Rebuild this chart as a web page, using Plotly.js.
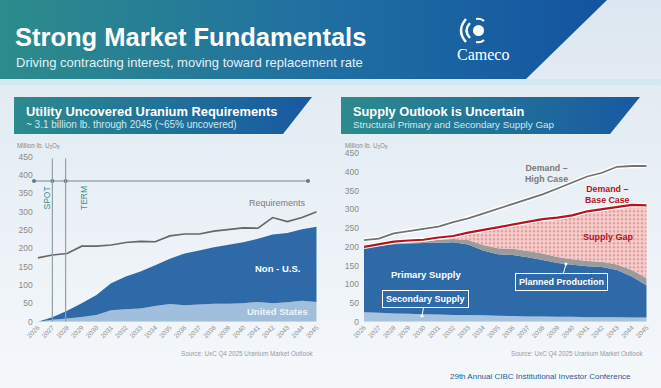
<!DOCTYPE html>
<html><head><meta charset="utf-8">
<script src="https://cdn.plot.ly/plotly-3.0.1.min.js"></script>
<style>html,body{margin:0;padding:0;background:#e8eff6;}#chart{width:661px;height:388px;}</style>
</head><body><div id="chart"></div>
<script>
// ---------- data ----------
const years = [2026,2027,2028,2029,2030,2031,2032,2033,2034,2035,2036,2037,2038,2039,2040,2041,2042,2043,2044,2045];
const yearLabels = years.map(String);
const yTicks = [0,50,100,150,200,250,300,350,400,450];

// Left: Utility uncovered requirements (million lb U3O8)
const usUncovered    = [0,5,9,13,18,31,34,36,43,48,45,47,49,49,50,54,50,53,57,54];
const nonUsUncovered = [0,7,21,37,55,74,89,101,111,124,141,147,154,161,167,172,188,189,195,205];
const requirements   = [174,182,186,206,206,209,216,219,218,234,239,239,247,251,256,255,284,273,284,300];

// Right: supply outlook
const secondarySupply   = [25,24,22,21,20,19,18,18,17,16,15,14,14,13,13,12,12,12,11,11];
const primarySupply     = [173,179,185,188,190,192,194,188,173,164,163,158,151,144,139,136,134,126,110,86];
const plannedProduction = [2,3,4,5,6,8,9,12,15,16,17,17,17,16,15,14,14,15,17,19];
const demandBase        = [200,207,214,217,219,225,229,238,245,254,261,268,274,278,284,295,300,307,312,311];
const demandHigh        = [218,222,236,242,246,254,266,276,289,302,314,328,340,356,372,388,398,414,416,416];
const supplyGap = demandBase.map((d,i)=>Math.max(0, d - secondarySupply[i] - primarySupply[i] - plannedProduction[i]));

const spotYear = 2027, termYear = 2027.9;

// ---------- styling ----------
const F = 'Liberation Sans, Arial, sans-serif';
const blue = '#2e6aa8', lightBlue = '#9fbfdd', grayBand = '#9b9b9b', red = '#b3141d';
const headGrad = {type:'horizontal', colorscale:[[0,'#2c8b8d'],[1,'#1759a3']]};

function deco(xs, ys, grad, color){
  const t = {x:xs, y:ys, xaxis:'x', yaxis:'y', mode:'lines', fill:'toself', line:{width:0},
    hoverinfo:'skip', showlegend:false};
  if (grad) t.fillgradient = grad; else t.fillcolor = color;
  return t;
}

const traces = [
  deco([0,661,661,0,0],[0,0,388,388,0],{type:'vertical',colorscale:[[0,'#f5f8fb'],[0.5,'#e9f0f6'],[1,'#dde7f1']]}),
  deco([0,661,661,0,0],[79,79,85,85,79],null,'#d3e8f1'),
  deco([0,607,526,0,0],[0,0,79,79,0],{type:'horizontal',colorscale:[[0,'#2c8c8b'],[0.55,'#1f6ea2'],[1,'#1354a0']]}),
  deco([14,312,283,14,14],[97,97,134,134,97],headGrad),
  deco([341,640,610,341,341],[97,97,134,134,97],headGrad),
  {x:[34,52.4,65.6,308], y:[181,181,181,181], xaxis:'x', yaxis:'y', mode:'lines+markers',
   line:{color:'#6f8b8e', width:1}, marker:{size:4, color:'#5f7f82'}, hoverinfo:'skip', showlegend:false},

  // left chart
  {x:years, y:usUncovered, xaxis:'x2', yaxis:'y2', stackgroup:'l', mode:'none', fillcolor:lightBlue, name:'United States'},
  {x:years, y:nonUsUncovered, xaxis:'x2', yaxis:'y2', stackgroup:'l', mode:'none', fillcolor:blue, name:'Non - U.S.'},
  {x:years, y:requirements, xaxis:'x2', yaxis:'y2', mode:'lines', line:{color:'#666', width:1.6}, name:'Requirements'},

  // right chart
  {x:years, y:secondarySupply, xaxis:'x3', yaxis:'y3', stackgroup:'r', mode:'none', fillcolor:'#a6c4e0', name:'Secondary Supply'},
  {x:years, y:primarySupply, xaxis:'x3', yaxis:'y3', stackgroup:'r', mode:'none', fillcolor:blue, name:'Primary Supply'},
  {x:years, y:plannedProduction, xaxis:'x3', yaxis:'y3', stackgroup:'r', mode:'none', fillcolor:grayBand, name:'Planned Production'},
  {x:years, y:supplyGap, xaxis:'x3', yaxis:'y3', stackgroup:'r', mode:'none', fillcolor:'#f3c8c8',
   fillpattern:{shape:'.', bgcolor:'#f5cece', fgcolor:'#e39c9c', size:4, solidity:0.35}, name:'Supply Gap'},
  {x:years, y:demandHigh, xaxis:'x3', yaxis:'y3', mode:'lines', line:{color:'#ffffff', width:4.5}, hoverinfo:'skip', showlegend:false},
  {x:years, y:demandHigh, xaxis:'x3', yaxis:'y3', mode:'lines', line:{color:'#727272', width:1.8}, name:'Demand – High Case'},
  {x:years, y:demandBase, xaxis:'x3', yaxis:'y3', mode:'lines', line:{color:'#ffffff', width:4.5}, hoverinfo:'skip', showlegend:false},
  {x:years, y:demandBase, xaxis:'x3', yaxis:'y3', mode:'lines', line:{color:red, width:2.2}, name:'Demand – Base Case'}
];

function xAx(domain, anchor){
  return {domain, anchor, range:[2026,2045], tickmode:'array', tickvals:years, ticktext:yearLabels,
    tickangle:-45, tickfont:{family:F, size:6.5, color:'#8f8f8f'}, showgrid:false, zeroline:false,
    showline:false, ticks:'', fixedrange:true};
}
function yAx(domain, anchor){
  return {domain, anchor, range:[0,450], tickmode:'array', tickvals:yTicks,
    tickfont:{family:F, size:8.5, color:'#8a8a8a'}, showgrid:false, zeroline:false,
    showline:false, ticks:'', ticklabelstandoff:4, fixedrange:true};
}

function txt(text, x, y, size, color, opts){
  return Object.assign({text, x, y, xref:'x', yref:'y', showarrow:false,
    font:{family:F, size, color}, xanchor:'left', yanchor:'middle'}, opts||{});
}

const annotations = [
  txt('<b>Strong Market Fundamentals</b>', 13, 37, 25.5, '#ffffff'),
  txt('Driving contracting interest, moving toward replacement rate', 14, 62, 13, '#e3f0f6'),
  txt('Cameco', 483, 54, 16, '#ffffff', {xanchor:'center', font:{family:'Liberation Serif, DejaVu Serif, serif', size:16, color:'#ffffff'}}),
  txt('<b>Utility Uncovered Uranium Requirements</b>', 24, 111, 12.9, '#ffffff'),
  txt('~ 3.1 billion lb. through 2045 (~65% uncovered)', 24, 124.5, 10, '#cfe9ef'),
  txt('<b>Supply Outlook is Uncertain</b>', 351, 111, 12.8, '#ffffff'),
  txt('Structural Primary and Secondary Supply Gap', 351, 124.5, 9.8, '#cfe9ef'),
  txt('Million lb. U<sub>3</sub>O<sub>8</sub>', 15, 146, 6.3, '#8a8a8a'),
  txt('Million lb. U<sub>3</sub>O<sub>8</sub>', 343, 146, 6.3, '#8a8a8a'),
  txt('SPOT', 46.5, 198, 8.5, '#3f8f8c', {xanchor:'center', textangle:-90}),
  txt('TERM', 84, 198, 8.5, '#3f8f8c', {xanchor:'center', textangle:-90}),
  txt('Requirements', 277, 203, 9, '#7a7a7a', {xanchor:'center'}),
  txt('<b>Non - U.S.</b>', 277, 268, 9.5, '#ffffff', {xanchor:'center'}),
  txt('<b>United States</b>', 277, 311, 9.5, '#eef4fa', {xanchor:'center'}),
  txt('Source: UxC Q4 2025 Uranium Market Outlook', 315, 354, 6.3, '#9a9a9a', {xanchor:'right'}),
  txt('Source: UxC Q4 2025 Uranium Market Outlook', 645, 354, 6.3, '#9a9a9a', {xanchor:'right'}),
  txt('<b>Demand –</b><br><b>High Case</b>', 546, 173, 8.8, '#7a7a7a', {xanchor:'center'}),
  txt('<b>Demand –</b><br><b>Base Case</b>', 607, 194, 8.8, red, {xanchor:'center'}),
  txt('<b>Supply Gap</b>', 608, 237, 9, red, {xanchor:'center'}),
  txt('<b>Primary Supply</b>', 426, 274, 9.5, '#ffffff', {xanchor:'center'}),
  Object.assign(txt('<b>Secondary Supply</b>', 422, 316, 9, '#ffffff', {xanchor:'center'}),
    {showarrow:true, ax:3, ay:-17, arrowhead:6, arrowsize:0.8, arrowwidth:1, arrowcolor:'#ffffff',
     bordercolor:'#ffffff', borderwidth:1, borderpad:3}),
  Object.assign(txt('<b>Planned Production</b>', 566, 264, 9, '#ffffff', {xanchor:'center'}),
    {showarrow:true, ax:-5, ay:18, arrowhead:6, arrowsize:0.8, arrowwidth:1, arrowcolor:'#ffffff',
     bordercolor:'#ffffff', borderwidth:1, borderpad:3}),
  txt('29th Annual CIBC Institutional Investor Conference', 633, 376, 8, '#2a5a9c', {xanchor:'right'})
];

const shapes = [
  {type:'circle', xref:'x', yref:'y', x0:473, x1:484, y0:25, y1:36, fillcolor:'#ffffff', line:{width:0}, layer:'above'},
  {type:'path', xref:'x', yref:'y', path:'M 470 23 Q 463 30.5 470 38', line:{color:'#ffffff', width:2.4}, layer:'above'},
  {type:'path', xref:'x', yref:'y', path:'M 466 19 Q 456 30.5 466 42', line:{color:'#ffffff', width:2.4}, layer:'above'},
  {type:'path', xref:'x', yref:'y', path:'M 476 19 Q 481 18 484 21', line:{color:'#ffffff', width:2}, layer:'above'},
  {type:'path', xref:'x', yref:'y', path:'M 476 42 Q 481 43 484 40', line:{color:'#ffffff', width:2}, layer:'above'},
  {type:'line', xref:'x2', yref:'y2', x0:spotYear, x1:spotYear, y0:0, y1:445, line:{color:'#8fa2a6', width:1.2}, layer:'above'},
  {type:'line', xref:'x2', yref:'y2', x0:termYear, x1:termYear, y0:0, y1:445, line:{color:'#8fa2a6', width:1.2}, layer:'above'}
];

const W = 661, H = 388;
const layout = {
  width:W, height:H, margin:{l:0,r:0,t:0,b:0}, showlegend:false,
  paper_bgcolor:'#e8eff6', plot_bgcolor:'rgba(0,0,0,0)',
  xaxis:{domain:[0,1], range:[0,W], visible:false, fixedrange:true},
  yaxis:{domain:[0,1], range:[H,0], visible:false, fixedrange:true},
  xaxis2:xAx([37.7/W, 316.7/W], 'y2'),
  yaxis2:yAx([(H-321.7)/H, (H-156.7)/H], 'x2'),
  xaxis3:xAx([364/W, 646.7/W], 'y3'),
  yaxis3:yAx([(H-321.7)/H, (H-153.3)/H], 'x3'),
  annotations, shapes
};

Plotly.newPlot('chart', traces, layout, {displayModeBar:false, staticPlot:true});
</script></body></html>
